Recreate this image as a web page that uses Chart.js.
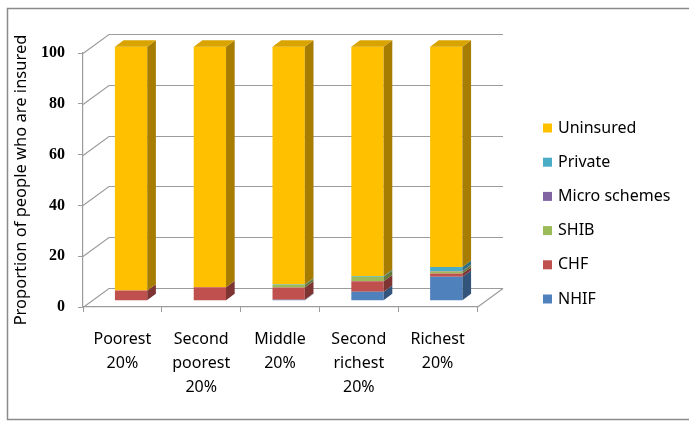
<!DOCTYPE html>
<html>
<head>
<meta charset="utf-8">
<script src="https://cdn.jsdelivr.net/npm/chart.js@4.4.1/dist/chart.umd.min.js"></script>
<style>
  html, body { margin: 0; padding: 0; background: #fff; }
  #wrap { width: 689px; height: 421px; }
</style>
</head>
<body>
<div id="wrap"><canvas id="insuredChart" width="689" height="421"></canvas></div>
<script>
// quintile labels (multi-line)
const categories = [
    ['Poorest', '20%'],
    ['Second', 'poorest', '20%'],
    ['Middle', '20%'],
    ['Second', 'richest', '20%'],
    ['Richest', '20%']
];

// share of people by insurance type, per quintile (%)
const nhif      = [0,    0,    0.4,  3.5,  9.4];
const chf       = [4.0,  5.3,  4.8,  4.1,  1.3];
const shib      = [0,    0,    1.0,  1.8,  0.8];
const micro     = [0,    0,    0,    0,    0.2];
const privateIns = [0,   0,    0.2,  0.3,  1.6];
const uninsured = [96.0, 94.7, 93.6, 90.3, 86.7];

const yTicks = [0, 20, 40, 60, 80, 100];

const textFont = 'Noto Sans';
const depth = { x: 26, y: -19 };   // floor / wall depth
const gridColor = '#9c9c9c';

function shade(hex, f) {
    const n = parseInt(hex.slice(1), 16);
    const r = Math.round(((n >> 16) & 255) * f);
    const g = Math.round(((n >> 8) & 255) * f);
    const b = Math.round((n & 255) * f);
    return 'rgb(' + r + ',' + g + ',' + b + ')';
}

// walls, floor and the 3d faces of the bars
const boxes3d = {
    id: 'boxes3d',
    beforeDraw(chart) {
        const ctx = chart.ctx;
        ctx.save();
        ctx.strokeStyle = '#8a8a8a';
        ctx.lineWidth = 1.5;
        ctx.strokeRect(7.5, 8.5, 700, 411);
        ctx.restore();
    },
    beforeDatasetsDraw(chart) {
        const ctx = chart.ctx;
        const a = chart.chartArea;
        const ys = chart.scales.y;
        ctx.save();
        ctx.strokeStyle = gridColor;
        ctx.lineWidth = 1.2;
        ctx.beginPath();
        yTicks.forEach(v => {
            const py = Math.round(ys.getPixelForValue(v)) + 0.5;
            ctx.moveTo(a.left, py);
            ctx.lineTo(a.left + depth.x, py + depth.y);
            ctx.lineTo(a.right + depth.x, py + depth.y);
        });
        // right edge of the floor
        ctx.moveTo(a.right, Math.round(a.bottom) + 0.5);
        ctx.lineTo(a.right + depth.x, Math.round(a.bottom) + 0.5 + depth.y);
        ctx.stroke();
        ctx.restore();

        // push the bars to the middle of the floor depth
        ctx.save();
        ctx.translate(depth.x / 3, depth.y / 3);
    },
    afterDatasetsDraw(chart) {
        const ctx = chart.ctx;
        ctx.restore();
        const ox = depth.x / 3, oy = depth.y / 3;
        const bx = depth.x / 3, by = depth.y / 3;
        const last = chart.data.datasets.length - 1;
        chart.data.datasets.forEach((ds, di) => {
            const meta = chart.getDatasetMeta(di);
            meta.data.forEach(bar => {
                const p = bar.getProps(['x', 'y', 'base', 'width'], true);
                const top = Math.min(p.y, p.base) + oy;
                const bottom = Math.max(p.y, p.base) + oy;
                if (bottom - top < 0.2) return;
                const left = p.x - p.width / 2 + ox;
                const right = p.x + p.width / 2 + ox;
                ctx.fillStyle = shade(ds.backgroundColor, 0.65);
                ctx.beginPath();
                ctx.moveTo(right, top);
                ctx.lineTo(right + bx, top + by);
                ctx.lineTo(right + bx, bottom + by);
                ctx.lineTo(right, bottom);
                ctx.closePath();
                ctx.fill();
                if (di === last) {
                    ctx.fillStyle = shade(ds.backgroundColor, 0.85);
                    ctx.beginPath();
                    ctx.moveTo(left, top);
                    ctx.lineTo(left + bx, top + by);
                    ctx.lineTo(right + bx, top + by);
                    ctx.lineTo(right, top);
                    ctx.closePath();
                    ctx.fill();
                }
            });
        });
    },
    afterDraw(chart) {
        // legend, top entry = last dataset
        const ctx = chart.ctx;
        const a = chart.chartArea;
        const items = chart.data.datasets.slice().reverse();
        ctx.save();
        ctx.font = '16px "' + textFont + '"';
        ctx.textBaseline = 'middle';
        items.forEach((ds, i) => {
            const cy = a.top + 75 + i * 34.2;
            ctx.fillStyle = ds.backgroundColor;
            ctx.fillRect(a.right + 66, cy - 4.5, 9, 9);
            ctx.fillStyle = '#000';
            ctx.fillText(ds.label, a.right + 81, cy);
        });
        ctx.restore();
    }
};

const ctx = document.getElementById('insuredChart').getContext('2d');
const insuredChart = new Chart(ctx, {
    type: 'bar',
    data: {
        labels: categories,
        datasets: [
            { label: 'NHIF', data: nhif, backgroundColor: '#4F81BD' },
            { label: 'CHF', data: chf, backgroundColor: '#C0504D' },
            { label: 'SHIB', data: shib, backgroundColor: '#9BBB59' },
            { label: 'Micro schemes', data: micro, backgroundColor: '#8064A2' },
            { label: 'Private', data: privateIns, backgroundColor: '#4BACC6' },
            { label: 'Uninsured', data: uninsured, backgroundColor: '#FFC000' }
        ]
    },
    options: {
        responsive: false,
        animation: false,
        layout: { padding: { left: 8, top: 53, right: 212, bottom: 0 } },
        datasets: {
            bar: { categoryPercentage: 1, barPercentage: 0.41, borderWidth: 0, clip: false }
        },
        scales: {
            x: {
                stacked: true,
                grid: { drawOnChartArea: false, tickLength: 5, color: gridColor, offset: true },
                border: { color: gridColor, width: 1.2 },
                ticks: {
                    color: '#000',
                    padding: 15,
                    font: { family: textFont, size: 16, lineHeight: 1.5 },
                    maxRotation: 0
                },
                afterFit(scale) { scale.height = 114; }
            },
            y: {
                stacked: true,
                min: 0,
                max: 100,
                grid: { drawOnChartArea: false, tickLength: 5, color: gridColor },
                border: { color: gridColor, width: 1.2 },
                ticks: {
                    stepSize: 20,
                    color: '#000',
                    padding: 13,
                    font: { family: 'Liberation Serif', size: 16, weight: 'bold' }
                },
                title: {
                    display: true,
                    text: 'Proportion of people who are insured',
                    color: '#000',
                    font: { family: textFont, size: 16.5 },
                    padding: { top: 3, bottom: 4 }
                },
                afterFit(scale) { scale.width = 75; }
            }
        },
        plugins: {
            legend: { display: false },
            tooltip: { enabled: false }
        }
    },
    plugins: [boxes3d]
});
</script>
</body>
</html>
